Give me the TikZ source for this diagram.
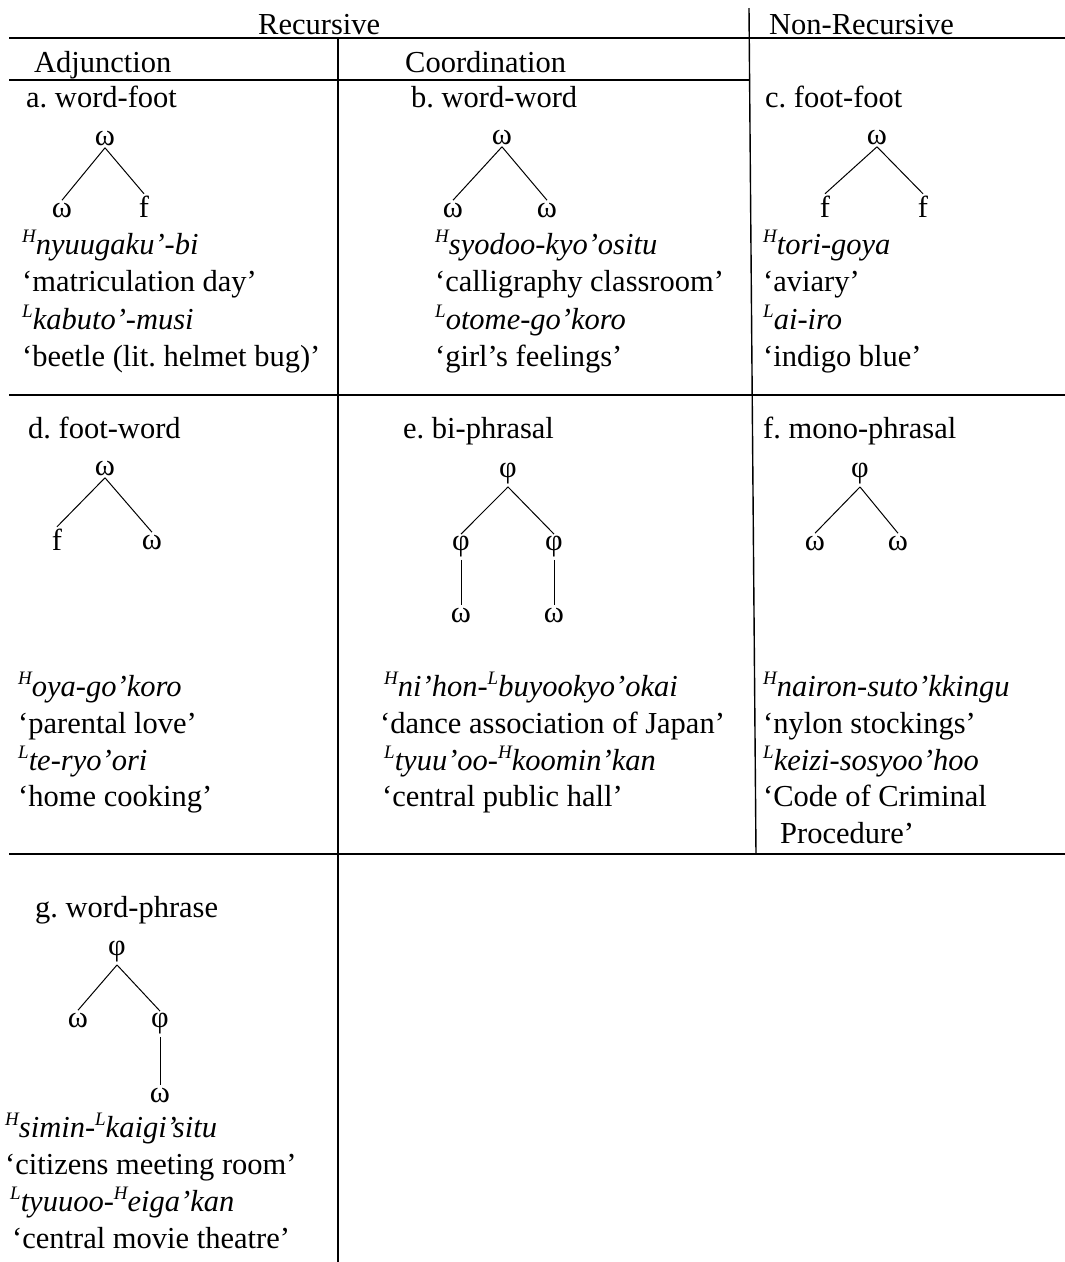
\documentclass[tikz,border=0pt]{standalone}
\usepackage{fontspec}
\setmainfont{Liberation Serif}
\frenchspacing
\newcommand{\supx}[1]{\raisebox{12pt}{\fontsize{19}{19}\selectfont\itshape #1}}
\begin{document}
\begin{tikzpicture}[x=1pt,y=-1pt,
  every node/.style={font=\fontsize{30.5}{36}\selectfont},
  txt/.style={anchor=base west,inner sep=0pt},
  tn/.style={inner sep=0pt,outer sep=2.5pt},
  rule/.style={line width=1.4pt},
  edge/.style={line width=1pt}]
\useasboundingbox (0,0) rectangle (1065,1262);
% table rules
\draw[rule] (9,38) -- (1065,38);
\draw[rule] (9,80) -- (750,80);
\draw[rule] (9,395) -- (1065,395);
\draw[rule] (9,854) -- (1065,854);
\draw[rule] (338,38) -- (338,1262);
\draw[rule] (749,8) -- (756,854);
% headers
\node[txt] (hRec) at (258,34) {Recursive};
\node[txt] (hNon) at (769,34) {Non-Recursive};
\node[txt] (hAdj) at (34,72) {Adjunction};
\node[txt] (hCoo) at (405,72) {Coordination};
\node[txt] (tA) at (26,107) {a. word-foot};
\node[txt] (tB) at (411,107) {b. word-word};
\node[txt] (tC) at (765,107) {c. foot-foot};
\node[txt] (tD) at (28,438) {d. foot-word};
\node[txt] (tE) at (403,438) {e. bi-phrasal};
\node[txt] (tF) at (763,438) {f. mono-phrasal};
\node[txt] (tG) at (35,917) {g. word-phrase};
% tree a
\node[tn] (a0) at (105,138) {ω};
\node[tn] (a1) at (62,210) {ω};
\node[tn] (a2) at (144,207) {f};
\draw[edge] (a0.south) -- (a1.north);
\draw[edge] (a0.south) -- (a2.north);
% tree b
\node[tn] (b0) at (502,137) {ω};
\node[tn] (b1) at (453,210) {ω};
\node[tn] (b2) at (547,210) {ω};
\draw[edge] (b0.south) -- (b1.north);
\draw[edge] (b0.south) -- (b2.north);
% tree c
\node[tn] (c0) at (877,137) {ω};
\node[tn] (c1) at (825,207) {f};
\node[tn] (c2) at (923,207) {f};
\draw[edge] (c0.south) -- (c1.north);
\draw[edge] (c0.south) -- (c2.north);
% tree d
\node[tn] (d0) at (105,468) {ω};
\node[tn] (d1) at (57,540) {f};
\node[tn] (d2) at (152,542) {ω};
\draw[edge] (d0.south) -- (d1.north);
\draw[edge] (d0.south) -- (d2.north);
% tree e
\node[tn] (e0) at (508,474) {φ};
\node[tn] (e1) at (461,547) {φ};
\node[tn] (e2) at (554,547) {φ};
\node[tn] (e3) at (461,615) {ω};
\node[tn] (e4) at (554,615) {ω};
\draw[edge] (e0.south) -- (e1.north);
\draw[edge] (e0.south) -- (e2.north);
\draw[edge] (e1.south) -- (e3.north);
\draw[edge] (e2.south) -- (e4.north);
% tree f
\node[tn] (f0) at (860,474) {φ};
\node[tn] (f1) at (815,543) {ω};
\node[tn] (f2) at (898,543) {ω};
\draw[edge] (f0.south) -- (f1.north);
\draw[edge] (f0.south) -- (f2.north);
% tree g
\node[tn] (g0) at (117,952) {φ};
\node[tn] (g1) at (78,1020) {ω};
\node[tn] (g2) at (160,1024) {φ};
\node[tn] (g3) at (160,1095) {ω};
\draw[edge] (g0.south) -- (g1.north);
\draw[edge] (g0.south) -- (g2.north);
\draw[edge] (g2.south) -- (g3.north);
% glosses a
\node[txt] (a-l1) at (22,254) {\supx{H}\textit{nyuugaku’-bi}};
\node[txt] (a-l2) at (22,291) {‘matriculation day’};
\node[txt] (a-l3) at (22,329) {\supx{L}\textit{kabuto’-musi}};
\node[txt] (a-l4) at (22,366) {‘beetle (lit. helmet bug)’};
% glosses b
\node[txt] (b-l1) at (435,254) {\supx{H}\textit{syodoo-kyo’ositu}};
\node[txt] (b-l2) at (435,291) {‘calligraphy classroom’};
\node[txt] (b-l3) at (435,329) {\supx{L}\textit{otome-go’koro}};
\node[txt] (b-l4) at (435,366) {‘girl’s feelings’};
% glosses c
\node[txt] (c-l1) at (763,254) {\supx{H}\textit{tori-goya}};
\node[txt] (c-l2) at (763,291) {‘aviary’};
\node[txt] (c-l3) at (763,329) {\supx{L}\textit{ai-iro}};
\node[txt] (c-l4) at (763,366) {‘indigo blue’};
% glosses d
\node[txt] (d-l1) at (18,696) {\supx{H}\textit{oya-go’koro}};
\node[txt] (d-l2) at (18,733) {‘parental love’};
\node[txt] (d-l3) at (18,770) {\supx{L}\textit{te-ryo’ori}};
\node[txt] (d-l4) at (18,806) {‘home cooking’};
% glosses e
\node[txt] (e-l1) at (384,696) {\supx{H}\textit{ni’hon-}\supx{L}\textit{buyookyo’okai}};
\node[txt] (e-l2) at (380,733) {‘dance association of Japan’};
\node[txt] (e-l3) at (384,770) {\supx{L}\textit{tyuu’oo-}\supx{H}\textit{koomin’kan}};
\node[txt] (e-l4) at (382,806) {‘central public hall’};
% glosses f
\node[txt] (f-l1) at (763,696) {\supx{H}\textit{nairon-suto’kkingu}};
\node[txt] (f-l2) at (763,733) {‘nylon stockings’};
\node[txt] (f-l3) at (763,770) {\supx{L}\textit{keizi-sosyoo’hoo}};
\node[txt] (f-l4) at (763,806) {‘Code of Criminal};
\node[txt] (f-l5) at (780,843) {Procedure’};
% glosses g
\node[txt] (g-l1) at (5,1137) {\supx{H}\textit{simin-}\supx{L}\textit{kaigi’situ}};
\node[txt] (g-l2) at (5,1174) {‘citizens meeting room’};
\node[txt] (g-l3) at (10,1211) {\supx{L}\textit{tyuuoo-}\supx{H}\textit{eiga’kan}};
\node[txt] (g-l4) at (12,1248) {‘central movie theatre’};
\end{tikzpicture}
\end{document}
